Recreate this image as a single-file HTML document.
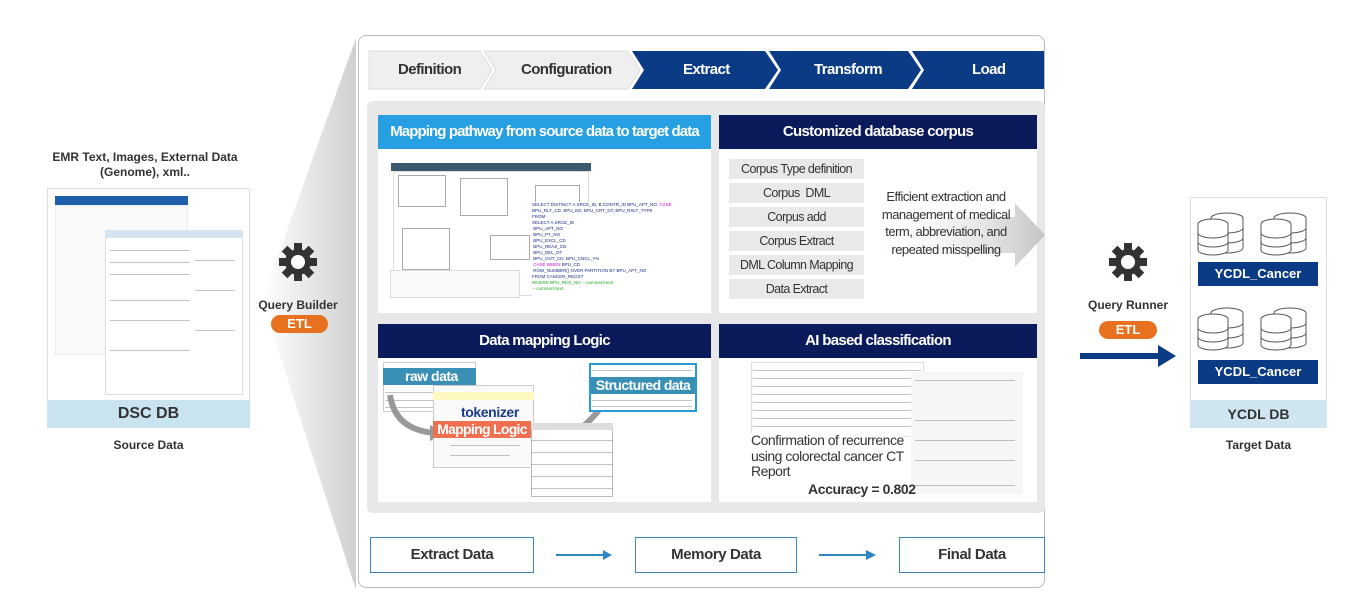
<!DOCTYPE html>
<html><head><meta charset="utf-8"><style>
*{margin:0;padding:0;box-sizing:border-box}
body{width:1359px;height:605px;background:#fff;position:relative;overflow:hidden;font-family:"Liberation Sans",Arial,sans-serif;color:#333}
.a{position:absolute}
.b{font-weight:bold}
.c{text-align:center}
.hd{position:absolute;color:#fff;font-weight:bold;font-size:15px;letter-spacing:-0.7px;white-space:nowrap;text-align:center;line-height:34px;height:34px}
.bx{position:absolute;top:537px;height:36px;border:1.5px solid #3a86c0;background:#fff;font-size:15px;letter-spacing:-0.4px;font-weight:bold;text-align:center;line-height:33px;color:#333}
.ln{position:absolute;height:1px;background:#555;opacity:.35}
.cp div{background:#e9e9e9;height:20px;margin-bottom:4px}
</style></head><body>

<svg class="a" style="left:0;top:0" width="1359" height="605">
<defs><linearGradient id="g" x1="0" x2="1"><stop offset="0" stop-color="#fff"/><stop offset="1" stop-color="#d0d0d0"/></linearGradient>
<g id="gear"><circle cx="0" cy="0" r="13" fill="#333"/>
<g fill="#333"><rect x="-4" y="-19" width="8" height="38"/><rect x="-19" y="-4" width="38" height="8"/><rect x="-4" y="-19" width="8" height="38" transform="rotate(45)"/><rect x="-4" y="-19" width="8" height="38" transform="rotate(-45)"/></g>
<circle cx="0" cy="0" r="7" fill="#fff"/></g></defs>
<polygon points="262,300 356,38 356,590" fill="url(#g)"/>
<rect x="1080" y="353" width="80" height="6" fill="#0b3b85"/><polygon points="1158,345 1176,356 1158,367" fill="#0b3b85"/>
<use href="#gear" x="298" y="262"/>
<use href="#gear" x="1128" y="262"/>
</svg>

<!-- left -->
<div class="a b c" style="left:20px;top:150px;width:250px;font-size:12px;line-height:15px;color:#333">EMR Text, Images, External Data<br>(Genome), xml..</div>
<div class="a" style="left:47px;top:188px;width:203px;height:240px;border:1px solid #ddd;background:#fff"></div>
<div class="a" style="left:55px;top:196px;width:133px;height:9px;background:#1d5fa8"></div>
<div class="a" style="left:55px;top:205px;width:133px;height:150px;border:1px solid #eee;background:#fafafa"></div>
<div class="a" style="left:105px;top:230px;width:138px;height:165px;border:1px solid #ddd;background:#fff"></div>
<div class="a" style="left:105px;top:230px;width:138px;height:8px;background:#d6e4f0"></div>
<div class="ln" style="left:110px;top:250px;width:80px"></div><div class="ln" style="left:110px;top:262px;width:80px"></div><div class="ln" style="left:110px;top:274px;width:80px"></div><div class="ln" style="left:110px;top:300px;width:80px"></div><div class="ln" style="left:110px;top:320px;width:80px"></div><div class="ln" style="left:110px;top:350px;width:80px"></div><div class="ln" style="left:195px;top:260px;width:40px"></div><div class="ln" style="left:195px;top:290px;width:40px"></div><div class="ln" style="left:195px;top:330px;width:40px"></div>
<div class="a b c" style="left:47px;top:400px;width:203px;height:28px;background:#c9e3ef;font-size:16px;line-height:28px">DSC DB</div>
<div class="a b c" style="left:47px;top:438px;width:203px;font-size:12px">Source Data</div>

<div class="a b c" style="left:250px;top:298px;width:96px;font-size:12px">Query Builder</div>
<div class="a b c" style="left:271px;top:315px;width:57px;height:18px;border-radius:9px;background:#e8711f;color:#fff;font-size:13px;line-height:18px">ETL</div>

<!-- container -->
<div class="a" style="left:358px;top:35px;width:687px;height:553px;border:1.5px solid #bbb;border-radius:8px;background:#fff"></div>
<svg class="a" style="left:0;top:0" width="1359" height="100">
<polygon points="369,51 480,51 492,70 480,89 369,89" fill="#efefef" stroke="#ddd"/>
<polygon points="484,51 628,51 640,70 628,89 484,89 496,70" fill="#efefef" stroke="#ddd"/>
<polygon points="632,51 765,51 778,70 765,89 632,89 644,70" fill="#0b3b85"/>
<polygon points="769,51 908,51 921,70 908,89 769,89 781,70" fill="#0b3b85"/>
<polygon points="912,51 1044,51 1044,89 912,89 924,70" fill="#0b3b85"/>
</svg>
<div class="a b" style="left:398px;top:61px;font-size:15px;letter-spacing:-0.6px">Definition</div>
<div class="a b" style="left:521px;top:61px;font-size:15px;letter-spacing:-0.6px">Configuration</div>
<div class="a b" style="left:683px;top:61px;font-size:15px;letter-spacing:-0.6px;color:#fff">Extract</div>
<div class="a b" style="left:814px;top:61px;font-size:15px;letter-spacing:-0.6px;color:#fff">Transform</div>
<div class="a b" style="left:972px;top:61px;font-size:15px;letter-spacing:-0.6px;color:#fff">Load</div>

<div class="a" style="left:367px;top:101px;width:678px;height:412px;background:#e8e8e8;border-radius:6px"></div>

<!-- top-left panel -->
<div class="a" style="left:378px;top:115px;width:333px;height:198px;background:#fff"></div>
<div class="hd" style="left:378px;top:115px;width:333px;background:#26a0e2;letter-spacing:-0.9px">Mapping pathway from source data to target data</div>
<div class="a" style="left:391px;top:163px;width:200px;height:8px;background:#3b5a70"></div>
<div class="a" style="left:393px;top:171px;width:196px;height:125px;border:1px solid #ddd"></div>
<div class="a" style="left:398px;top:175px;width:48px;height:32px;border:1px solid #aaa"></div>
<div class="a" style="left:460px;top:178px;width:48px;height:38px;border:1px solid #aaa"></div>
<div class="a" style="left:535px;top:185px;width:45px;height:30px;border:1px solid #aaa"></div>
<div class="a" style="left:402px;top:228px;width:48px;height:42px;border:1px solid #aaa"></div>
<div class="a" style="left:490px;top:235px;width:40px;height:25px;border:1px solid #aaa"></div>
<div class="a" style="left:390px;top:270px;width:130px;height:28px;border:1px solid #ddd;background:#fafafa"></div>
<div class="a" style="left:532px;top:202px;width:175px;height:95px;font-size:4.5px;line-height:6px;color:#1a2a88;background:#fff">SELECT DISTINCT A.SRCE_ID, B.CONTR_ID BPU_APT_NO, <span style="color:#d0d">CASE</span><br>BPU_RLT_CD, BPU_ED, BPU_CRT_DT, BPU_RSLT_TYPE<br>FROM<br>SELECT A.SRCE_ID<br>&nbsp;BPU_APT_NO<br>&nbsp;BPU_PT_NO<br>&nbsp;BPU_EXCL_CD<br>&nbsp;BPU_REAS_CD<br>&nbsp;BPU_DEL_DT<br>&nbsp;BPU_OUT_CD, BPU_CNCL_YN<br>&nbsp;<span style="color:#d0d">CASE WHEN</span> BPU_CD<br>&nbsp;ROW_NUMBER() OVER PARTITION BY BPU_APT_NO<br>FROM CANCER_REGST<br><span style="color:#2a2">WHERE BPU_REG_NO -- comment text</span><br><span style="color:#2a2">-- comment text</span></div>

<!-- top-right panel -->
<div class="a" style="left:719px;top:115px;width:318px;height:198px;background:#fff"></div>
<div class="hd" style="left:719px;top:115px;width:318px;background:#0b1a5a">Customized database corpus</div>
<svg class="a" style="left:865px;top:195px" width="180" height="90">
<defs><linearGradient id="g3" x1="0" x2="1"><stop offset="0" stop-color="#fff" stop-opacity="0"/><stop offset="1" stop-color="#c4c4c4"/></linearGradient></defs>
<polygon points="0,22 150,22 150,8 180,40 150,72 150,58 0,58" fill="url(#g3)"/>
</svg>
<div class="a c cp" style="left:729px;top:159px;width:135px;font-size:12.5px;letter-spacing:-0.6px;color:#333;line-height:20px;white-space:nowrap">
<div>Corpus Type definition</div><div>Corpus &nbsp;DML</div><div>Corpus add</div><div>Corpus Extract</div><div>DML Column Mapping</div><div>Data Extract</div></div>
<div class="a c" style="left:880px;top:188px;width:132px;font-size:13px;letter-spacing:-0.5px;line-height:17.5px;color:#333">Efficient extraction and management of medical term, abbreviation, and repeated misspelling</div>

<!-- bottom-left panel -->
<div class="a" style="left:378px;top:324px;width:333px;height:178px;background:#fff"></div>
<div class="hd" style="left:378px;top:324px;width:333px;background:#0b1a5a">Data mapping Logic</div>
<div class="a" style="left:383px;top:362px;width:93px;height:50px;border:1px solid #ccc;background:#fff"></div>
<div class="ln" style="left:385px;top:392px;width:80px"></div><div class="ln" style="left:385px;top:400px;width:80px"></div><div class="ln" style="left:385px;top:407px;width:80px"></div>
<div class="a b" style="left:383px;top:368px;width:93px;height:17px;background:#3a8fb5;color:#fff;font-size:14px;line-height:17px;padding-left:22px;white-space:nowrap;letter-spacing:-0.5px">raw data</div>
<svg class="a" style="left:370px;top:355px" width="340" height="120">
<path d="M20,40 Q25,75 65,78" stroke="#999" stroke-width="6" fill="none"/><polygon points="60,70 75,78 60,86" fill="#999"/>
<path d="M190,85 Q220,75 250,25" stroke="#999" stroke-width="6" fill="none"/><polygon points="242,28 255,15 256,33" fill="#999"/>
</svg>
<div class="a" style="left:433px;top:385px;width:101px;height:83px;border:1px solid #ccc;background:#fafafa"></div>
<div class="a" style="left:433px;top:392px;width:101px;height:8px;background:#fdf7c0"></div>
<div class="ln" style="left:450px;top:445px;width:70px"></div><div class="ln" style="left:450px;top:455px;width:60px"></div>
<div class="a b" style="left:461px;top:404px;font-size:14px;letter-spacing:-0.4px;color:#1a3a8a">tokenizer</div>
<div class="a b c" style="left:433px;top:421px;width:98px;height:17px;background:#ee7050;color:#fff;font-size:14px;letter-spacing:-0.7px;line-height:17px;white-space:nowrap">Mapping Logic</div>
<div class="a" style="left:531px;top:423px;width:82px;height:74px;border:1px solid #bbb;background:#fff"></div>
<div class="a" style="left:531px;top:423px;width:82px;height:7px;background:#ddd"></div>
<div class="ln" style="left:531px;top:440px;width:82px"></div><div class="ln" style="left:531px;top:452px;width:82px"></div><div class="ln" style="left:531px;top:464px;width:82px"></div><div class="ln" style="left:531px;top:476px;width:82px"></div><div class="ln" style="left:531px;top:488px;width:82px"></div>
<div class="a" style="left:589px;top:363px;width:108px;height:49px;border:2px solid #2a9ad6;background:#fff"></div>
<div class="ln" style="left:592px;top:370px;width:100px"></div><div class="ln" style="left:592px;top:400px;width:100px"></div><div class="ln" style="left:592px;top:406px;width:100px"></div>
<div class="a b c" style="left:591px;top:377px;width:104px;height:17px;background:#3a8fb5;color:#fff;font-size:14px;letter-spacing:-0.6px;line-height:17px;white-space:nowrap">Structured data</div>

<!-- bottom-right panel -->
<div class="a" style="left:719px;top:324px;width:318px;height:178px;background:#fff"></div>
<div class="hd" style="left:719px;top:324px;width:318px;background:#0b1a5a">AI based classification</div>
<div class="a" style="left:751px;top:362px;width:173px;height:75px;border:1px solid #ddd"></div>
<div class="ln" style="left:753px;top:370px;width:168px"></div><div class="ln" style="left:753px;top:378px;width:168px"></div><div class="ln" style="left:753px;top:386px;width:168px"></div><div class="ln" style="left:753px;top:394px;width:168px"></div><div class="ln" style="left:753px;top:402px;width:168px"></div><div class="ln" style="left:753px;top:410px;width:168px"></div><div class="ln" style="left:753px;top:418px;width:168px"></div><div class="ln" style="left:753px;top:426px;width:168px"></div>
<div class="a" style="left:911px;top:372px;width:112px;height:122px;background:#f6f6f6"></div>
<div class="ln" style="left:915px;top:380px;width:100px"></div><div class="ln" style="left:915px;top:420px;width:100px"></div><div class="ln" style="left:915px;top:440px;width:100px"></div><div class="ln" style="left:915px;top:460px;width:100px"></div><div class="ln" style="left:915px;top:485px;width:100px"></div>
<div class="a" style="left:751px;top:433px;font-size:14px;letter-spacing:-0.5px;line-height:15.5px;color:#333;background:#fff">Confirmation of recurrence<br>using colorectal cancer CT<br>Report</div>
<div class="a b" style="left:808px;top:481px;font-size:14px;letter-spacing:-0.4px;color:#333">Accuracy = 0.802</div>

<div class="bx" style="left:370px;width:164px">Extract Data</div>
<div class="bx" style="left:635px;width:162px">Memory Data</div>
<div class="bx" style="left:899px;width:146px">Final Data</div>
<svg class="a" style="left:0;top:540px" width="1359" height="40">
<line x1="556" y1="15" x2="604" y2="15" stroke="#2e86c1" stroke-width="2"/><polygon points="603,10 612,15 603,20" fill="#2e86c1"/>
<line x1="819" y1="15" x2="867" y2="15" stroke="#2e86c1" stroke-width="2"/><polygon points="866,10 876,15 866,20" fill="#2e86c1"/>
</svg>

<!-- right -->
<div class="a b c" style="left:1078px;top:298px;width:100px;font-size:12px">Query Runner</div>
<div class="a b c" style="left:1099px;top:321px;width:58px;height:18px;border-radius:9px;background:#e8711f;color:#fff;font-size:13px;line-height:18px">ETL</div>
<div class="a" style="left:1190px;top:197px;width:137px;height:231px;border:1px solid #ddd;background:#fff"></div>
<svg class="a" style="left:1195px;top:210px" width="130" height="180" fill="#fff" stroke="#555" stroke-width="1">
<g id="d"><ellipse cx="32" cy="8" rx="16" ry="5"/><path d="M16 8v30a16 5 0 0 0 32 0V8"/><path d="M16 18a16 5 0 0 0 32 0M16 28a16 5 0 0 0 32 0"/>
<ellipse cx="18" cy="14" rx="15" ry="5"/><path d="M3 14v26a15 5 0 0 0 30 0V14"/><path d="M3 23a15 5 0 0 0 30 0M3 32a15 5 0 0 0 30 0"/></g>
<use href="#d" x="63"/><use href="#d" y="95"/><use href="#d" x="63" y="95"/>
</svg>
<div class="a b c" style="left:1198px;top:262px;width:120px;height:24px;background:#0b3b85;color:#fff;font-size:13px;line-height:24px">YCDL_Cancer</div>
<div class="a b c" style="left:1198px;top:360px;width:120px;height:24px;background:#0b3b85;color:#fff;font-size:13px;line-height:24px">YCDL_Cancer</div>
<div class="a b c" style="left:1190px;top:400px;width:137px;height:28px;background:#cfe5f0;font-size:14px;line-height:28px">YCDL DB</div>
<div class="a b c" style="left:1190px;top:438px;width:137px;font-size:12px">Target Data</div>
</body></html>
